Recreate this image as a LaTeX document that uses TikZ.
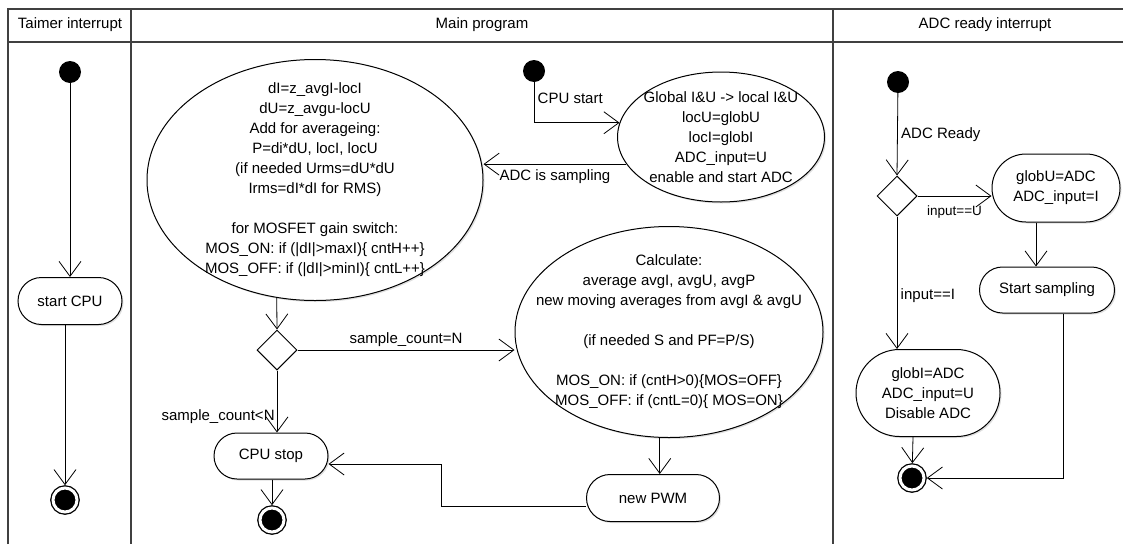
\documentclass[tikz,border=0pt]{standalone}
\usepackage{fontspec}
\setmainfont{Liberation Sans}
\usetikzlibrary{arrows.meta, shapes.geometric, shapes.misc, shadows}

\begin{document}
\begin{tikzpicture}[x=1pt, y=-1pt,
		every node/.style={font=\fontsize{15}{20}\selectfont},
		lane/.style={line width=1.3pt, black!75},
		startdot/.style={circle, fill=black, minimum size=22pt, inner sep=0pt},
		enddot/.style={circle, fill=black, draw=black, line width=1.3pt, double=white, double distance=3pt, minimum size=24pt, inner sep=0pt, outer sep=2.8pt},
		action/.style={rounded rectangle, draw, line width=1pt, fill=white, align=center, inner sep=0pt, drop shadow={shadow xshift=1.5pt, shadow yshift=-1.5pt, opacity=0.25}},
		bubble/.style={ellipse, draw, line width=1pt, fill=white, align=center, inner xsep=-30pt, inner ysep=-25pt, drop shadow={shadow xshift=1.5pt, shadow yshift=-1.5pt, opacity=0.25}},
		choice/.style={diamond, draw, line width=1pt, fill=white, minimum width=40pt, minimum height=40pt, inner sep=0pt},
		small/.style={font=\fontsize{13.5}{16}\selectfont},
		flow/.style={line width=0.8pt, -{Straight Barb[length=15pt, width=22pt]}}]
	\useasboundingbox (0,0) rectangle (1123,544);
	% swimlanes
	\draw[lane] (8,544) -- (8,9) -- (1123,9);
	\draw[lane] (8,42) -- (1123,42);
	\foreach \x in {131, 833}
	\draw[lane] (\x,9) -- (\x,544);
	\node (hTimer) at (70,25) {Taimer interrupt};
	\node (hMain) at (482,25) {Main program};
	\node (hADC) at (985,25) {ADC ready interrupt};
	
	% timer interrupt
	\node[startdot] (init1) at (70,72) {};
	\node[action, minimum width=104pt, minimum height=47pt] (startcpu) at (70,301) {start CPU};
	\node[enddot] (final1) at (65,500) {};
	\draw[flow] (init1) -- (startcpu);
	\draw[flow] (startcpu.south -| final1) -- (final1);
	
	% main program
	\node[bubble, minimum width=336pt, minimum height=241pt] (e1) at (315,180) {dI=z\_avgI-locI\\dU=z\_avgu-locU\\Add for averageing:\\P=di*dU, locI, locU\\(if needed Urms=dU*dU\\Irms=dI*dI for RMS)\\[20pt]for MOSFET gain switch:\\MOS\_ON: if (|dI|>maxI)\{ cntH++\}\\MOS\_OFF: if (|dI|>minI)\{ cntL++\}};
	\node[startdot] (init2) at (534,71) {};
	\node[bubble, minimum width=207pt, minimum height=130pt] (e2) at (721,137) {Global I\&U -> local I\&U\\locU=globU\\locI=globI\\ADC\_input=U\\enable and start ADC};
	\node[choice] (d1) at (277,350) {};
	\node[bubble, minimum width=308pt, minimum height=211pt] (e3) at (669,332) {Calculate:\\average avgI, avgU, avgP\\new moving averages from avgI \& avgU\\[20pt](if needed S and PF=P/S)\\[20pt]MOS\_ON: if (cntH>0)\{MOS=OFF\}\\MOS\_OFF: if (cntL=0)\{ MOS=ON\}};
	\node[action, minimum width=114pt, minimum height=46pt] (cpustop) at (271,456) {CPU stop};
	\node[action, minimum width=133pt, minimum height=47pt] (pwm) at (653,498) {new PWM};
	\node[enddot] (final2) at (272,520) {};
	\draw[flow] (init2) |- (e2.172) node[pos=0.2, right] {CPU start};
	\draw[flow] (e2.196) -- (e2.196 -| e1.east) node[midway, below=2pt] {ADC is sampling};
	\draw[flow] (e1.252) -- (d1.north);
	\draw[flow] (d1.east) -- (d1.east -| e3.west) node[midway, above] {sample\_count=N};
	\draw[flow] (d1.south) -- (d1.south |- cpustop.north) node[pos=0.75, left, inner sep=2pt] {sample\_count<N};
	\draw[flow] (cpustop.south -| final2) -- (final2);
	\draw[flow] (e3.265) -- (e3.265 |- pwm.north);
	\draw[flow] ([yshift=-8pt]pwm.west) -- ++(-145,0) |- ([yshift=-8pt]cpustop.east);
	
	% ADC ready interrupt
	\node[startdot] (init3) at (898,82) {};
	\node[choice] (d2) at (897,196) {};
	\node[action, minimum width=128pt, minimum height=68pt] (globu) at (1056,188) {globU=ADC\\ADC\_input=I};
	\node[action, minimum width=135pt, minimum height=46pt] (startsamp) at (1047,290) {Start sampling};
	\node[action, minimum width=144pt, minimum height=87pt] (globi) at (928,393) {globI=ADC\\ADC\_input=U\\Disable ADC};
	\node[enddot] (final3) at (912,478) {};
	\draw[flow] (init3) -- (d2.north) node[midway, right] {ADC Ready};
	\draw[flow] (d2.east) -- (d2.east -| globu.west) node[pos=0.5, below=6pt, small] {input==U};
	\draw[flow] (d2.south) -- (d2.south |- globi.north) node[pos=0.6, right] {input==I};
	\draw[flow] ([xshift=-20pt]globu.south) -- ([xshift=-20pt]globu.south |- startsamp.north);
	\draw[flow] ([xshift=16pt]startsamp.south) |- (final3);
	\draw[flow] ([xshift=-15pt]globi.south) -- (final3);
\end{tikzpicture}
\end{document}
